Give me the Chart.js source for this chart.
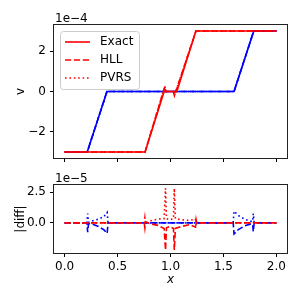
<!DOCTYPE html>
<html>
<head>
<meta charset="utf-8">
<script src="https://cdn.jsdelivr.net/npm/chart.js@4.4.0/dist/chart.umd.min.js"></script>
<style>
  html, body { margin: 0; padding: 0; background: #fff; }
  #wrap { position: relative; width: 300px; height: 300px; }
  #top { position: absolute; left: 0; top: 0; }
  #bottom { position: absolute; left: 0; top: 170px; }
</style>
</head>
<body>
<div id="wrap">
  <canvas id="top" width="300" height="170"></canvas>
  <canvas id="bottom" width="300" height="130"></canvas>
</div>
<script>
// tick labels
const xTicks = [0, 0.5, 1.0, 1.5, 2.0];
const vTicks = [-2, 0, 2];
const diffTicks = [0, 2.5];

// top panel: v in units of 1e-4
const redExactX = [0, 0.76, 0.94, 1.06, 1.24, 2.0];
const redExactV = [-3, -3, 0, 0, 3, 3];
const redNumX = [0, 0.76, 0.947, 0.955, 1.027, 1.037, 1.24, 2.0];
const redHllV = [-3, -3, 0.25, 0, 0, -0.21, 3, 3];
const redPvrsV = [-3, -3, 0.27, 0, 0, -0.2, 3, 3];
const blueX = [0, 0.214, 0.40, 1.60, 1.786, 2.0];
const blueExactV = [-3, -3, 0, 0, 3, 3];
const blueHllV = [-3, -3, 0, 0, 3, 3];
const bluePvrsV = [-3, -3, 0, 0, 3, 3];

// bottom panel: diff in units of 1e-5
const redDiffX = [0, 0.752, 0.758, 0.764, 0.80, 0.88, 0.94, 0.953, 0.962, 0.99, 1.028, 1.036, 1.046, 1.10, 1.18, 1.236, 1.242, 1.248, 2.0];
const redHllD = [0, 0, -0.4, 0.1, -0.05, -0.2, -0.45, -2.2, -0.4, -0.3, -0.45, -2.2, -0.45, -0.3, -0.15, -0.35, 0.25, 0, 0];
const redPvrsD = [0, 0, 0.4, -0.1, 0.15, 0.3, 0.35, 2.8, 0.35, 0.25, 0.35, 2.8, 0.35, 0.25, 0.2, 0.3, -0.25, 0, 0];
const blueDiffX = [0, 0.21, 0.218, 0.226, 0.26, 0.32, 0.37, 0.402, 0.41, 1.592, 1.60, 1.64, 1.70, 1.75, 1.775, 1.782, 1.79, 2.0];
const blueHllD = [0, 0, -0.75, -0.05, -0.1, -0.3, -0.55, -0.85, 0, 0, -0.9, -0.55, -0.25, -0.1, -0.1, -0.7, 0, 0];
const bluePvrsD = [0, 0, 0.75, 0.05, 0.15, 0.3, 0.5, 0.85, 0, 0, 0.95, 0.6, 0.3, 0.15, 0.1, 0.75, 0, 0];

const RED = "#ff0000";
const BLUE = "#0000ff";
const DASH = [6.2, 2.7];
const DOT = [1.6, 2.8];

Chart.defaults.font.family = "'DejaVu Sans', sans-serif";
Chart.defaults.font.size = 12;
Chart.defaults.color = "#000";

function pts(xs, ys) {
  return xs.map((x, i) => ({ x: x, y: ys[i] }));
}

function series(label, xs, ys, color, dash) {
  return {
    label: label,
    data: pts(xs, ys),
    borderColor: color,
    borderWidth: 1.6,
    borderDash: dash,
    pointRadius: 0,
    tension: 0,
    fill: false,
  };
}

// frame on all four sides, like matplotlib spines
const frame = {
  id: "frame",
  afterDatasetsDraw(chart) {
    const { ctx, chartArea: a } = chart;
    ctx.save();
    ctx.strokeStyle = "#222";
    ctx.lineWidth = 1;
    ctx.strokeRect(a.left - 0.5, a.top - 0.5, a.right - a.left + 1, a.bottom - a.top + 1);
    ctx.restore();
  },
};

// "1e-4" style offset text above the axes
const offsetText = {
  id: "offsetText",
  afterDraw(chart, args, opts) {
    if (!opts.text) return;
    const { ctx, chartArea: a } = chart;
    ctx.save();
    ctx.font = "12px 'DejaVu Sans'";
    ctx.fillStyle = "#000";
    ctx.textBaseline = "alphabetic";
    ctx.textAlign = "left";
    ctx.fillText(opts.text, a.left + 1, a.top - 3);
    ctx.restore();
  },
};

// legend drawn inside the plot, upper left
const insetLegend = {
  id: "insetLegend",
  afterDraw(chart, args, opts) {
    if (!opts.display) return;
    const { ctx, chartArea: a } = chart;
    const items = chart.data.datasets.filter((d) => d.label);
    const x0 = a.left + 6, y0 = a.top + 6, w = 79, h = 58, r = 3;
    ctx.save();
    ctx.beginPath();
    ctx.roundRect(x0 + 0.5, y0 + 0.5, w, h, r);
    ctx.fillStyle = "rgba(255,255,255,0.8)";
    ctx.fill();
    ctx.strokeStyle = "#cccccc";
    ctx.lineWidth = 1;
    ctx.stroke();
    items.forEach((d, i) => {
      const y = a.top + 17 + i * 18;
      ctx.beginPath();
      ctx.setLineDash(d.borderDash || []);
      ctx.strokeStyle = d.borderColor;
      ctx.lineWidth = d.borderWidth;
      ctx.moveTo(a.left + 11, y);
      ctx.lineTo(a.left + 36, y);
      ctx.stroke();
      ctx.setLineDash([]);
      ctx.fillStyle = "#000";
      ctx.font = "12px 'DejaVu Sans'";
      ctx.textBaseline = "middle";
      ctx.fillText(d.label, a.left + 46, y);
    });
    ctx.restore();
  },
};

function xAxis(showLabels, height) {
  return {
    type: "linear",
    min: -0.1,
    max: 2.1,
    afterBuildTicks: (s) => { s.ticks = xTicks.map((v) => ({ value: v })); },
    afterFit: (s) => { s.height = height; },
    grid: { drawOnChartArea: false, drawTicks: true, tickLength: 4, tickColor: "#000", tickWidth: 1 },
    border: { display: false },
    ticks: {
      padding: 3,
      maxRotation: 0,
      autoSkip: false,
      callback: (v) => (showLabels ? v.toFixed(1) : ""),
    },
    title: {
      display: showLabels,
      text: "x",
      font: { size: 12, style: "italic" },
      padding: { top: 0, bottom: 13 },
    },
  };
}

function yAxis(min, max, ticks, fmt, label) {
  return {
    type: "linear",
    min: min,
    max: max,
    afterBuildTicks: (s) => { s.ticks = ticks.map((v) => ({ value: v })); },
    afterFit: (s) => { s.width = 54; },
    grid: { drawOnChartArea: false, drawTicks: true, tickLength: 4, tickColor: "#000", tickWidth: 1 },
    border: { display: false },
    ticks: { padding: 4, callback: fmt },
    title: { display: true, text: label, font: { size: 12 }, padding: { top: 14, bottom: 0 } },
  };
}

const fmtV = (v) => (v < 0 ? "\u2212" + Math.abs(v) : String(v));
const fmtD = (v) => v.toFixed(1);

new Chart(document.getElementById("top"), {
  type: "line",
  data: {
    datasets: [
      series("Exact", redExactX, redExactV, RED, []),
      series("HLL", redNumX, redHllV, RED, DASH),
      series("PVRS", redNumX, redPvrsV, RED, DOT),
      series("", blueX, blueExactV, BLUE, []),
      series("", blueX, blueHllV, BLUE, DASH),
      series("", blueX, bluePvrsV, BLUE, DOT),
    ],
  },
  options: {
    responsive: false,
    animation: false,
    layout: { padding: { left: 0, right: 13, top: 25, bottom: 0 } },
    scales: {
      x: xAxis(false, 12),
      y: yAxis(-3.3, 3.3, vTicks, fmtV, "v"),
    },
    plugins: {
      legend: { display: false },
      tooltip: { enabled: false },
      offsetText: { text: "1e\u22124" },
      insetLegend: { display: true },
    },
  },
  plugins: [frame, offsetText, insetLegend],
});

new Chart(document.getElementById("bottom"), {
  type: "line",
  data: {
    datasets: [
      series("HLL", redDiffX, redHllD, RED, DASH),
      series("PVRS", redDiffX, redPvrsD, RED, DOT),
      series("", blueDiffX, blueHllD, BLUE, DASH),
      series("", blueDiffX, bluePvrsD, BLUE, DOT),
    ],
  },
  options: {
    responsive: false,
    animation: false,
    layout: { padding: { left: 0, right: 13, top: 15, bottom: 0 } },
    scales: {
      x: xAxis(true, 47),
      y: yAxis(-2.44, 3.07, diffTicks, fmtD, "|diff|"),
    },
    plugins: {
      legend: { display: false },
      tooltip: { enabled: false },
      offsetText: { text: "1e\u22125" },
      insetLegend: { display: false },
    },
  },
  plugins: [frame, offsetText, insetLegend],
});
</script>
</body>
</html>
